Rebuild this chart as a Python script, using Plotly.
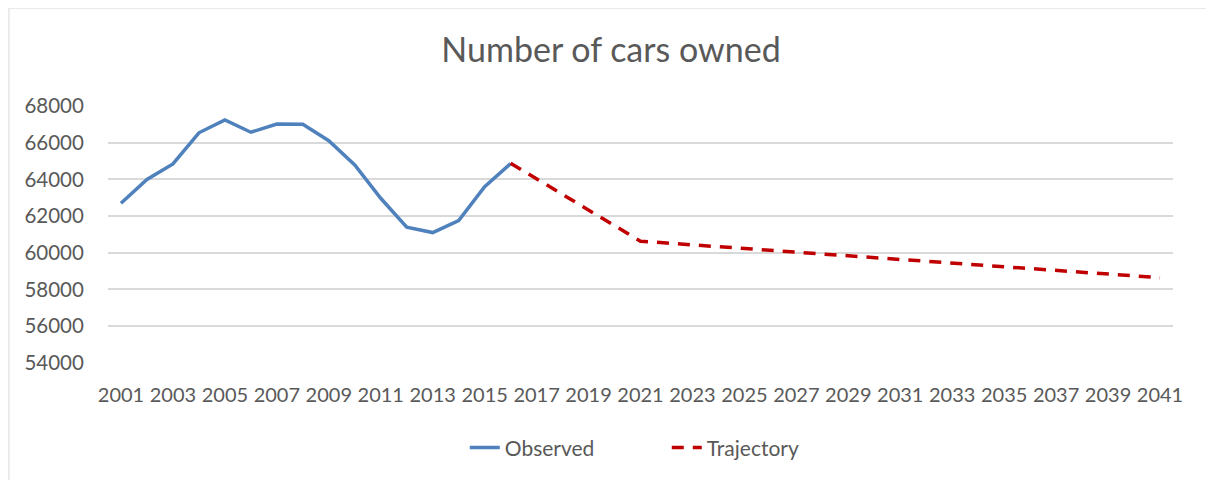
import plotly.graph_objects as go

# observed series (2001-2016)
obs_years = list(range(2001, 2017))
obs_values = [62700, 64000, 64840, 66540, 67240, 66570, 67020, 67000,
              66110, 64790, 62970, 61390, 61100, 61750, 63600, 64860]

# trajectory (2016-2041)
traj_years = list(range(2016, 2042))
traj_values = [64880, 64030, 63180, 62330, 61480, 60630, 60530, 60430,
               60330, 60230, 60140, 60040, 59940, 59840, 59740, 59640,
               59540, 59440, 59340, 59240, 59140, 59040, 58940, 58840,
               58740, 58640]

tick_years = list(range(2001, 2042, 2))
y_ticks = list(range(54000, 68001, 2000))

font_name = "Lato, Open Sans, sans-serif"
grey = "#595959"

fig = go.Figure()
fig.add_trace(go.Scatter(x=obs_years, y=obs_values, mode='lines', name='Observed',
                         line=dict(color='#4F81BD', width=3.5)))
fig.add_trace(go.Scatter(x=traj_years, y=traj_values, mode='lines', name='Trajectory',
                         line=dict(color='#C00000', width=3.5, dash='12px,9px')))

# outer chart border
fig.add_shape(type='rect', xref='paper', yref='paper',
              x0=-0.093, x1=1.05, y0=-0.5, y1=1.381,
              line=dict(color='#D9D9D9', width=1), fillcolor='rgba(0,0,0,0)', layer='below')

# page body has an 8px margin, so the figure is 8px smaller than the window
fig.update_layout(
    width=1206, height=472,
    margin=dict(l=100, r=41, t=98, b=117),
    paper_bgcolor='white', plot_bgcolor='white',
    title=dict(text='Number of cars owned', x=0.5, xanchor='center', y=0.91, yanchor='middle',
               font=dict(family=font_name, size=34, color=grey)),
    font=dict(family=font_name, color=grey, size=20),
    showlegend=True,
    legend=dict(orientation='h', x=0.335, xanchor='left', y=-0.25, yanchor='top',
                font=dict(size=21, color=grey), tracegroupgap=0,
                entrywidth=157, entrywidthmode='pixels'),
    xaxis=dict(range=[2000.5, 2041.5], tickmode='array', tickvals=tick_years,
               ticktext=[str(y) for y in tick_years], showgrid=False, zeroline=False,
               showline=False, ticks='', ticklabelstandoff=18,
               tickfont=dict(size=20, color=grey)),
    # invisible ticks push the labels away from the plot, like the original
    yaxis=dict(range=[53990, 68000], tickmode='array', tickvals=y_ticks,
               ticktext=[str(v) for v in y_ticks],
               showgrid=True, gridcolor='#D9D9D9', gridwidth=1.5, zeroline=False,
               showline=False, ticks='outside', ticklen=19, tickcolor='rgba(0,0,0,0)',
               tickfont=dict(size=20.5, color=grey)),
)

fig.write_html("out.html")
